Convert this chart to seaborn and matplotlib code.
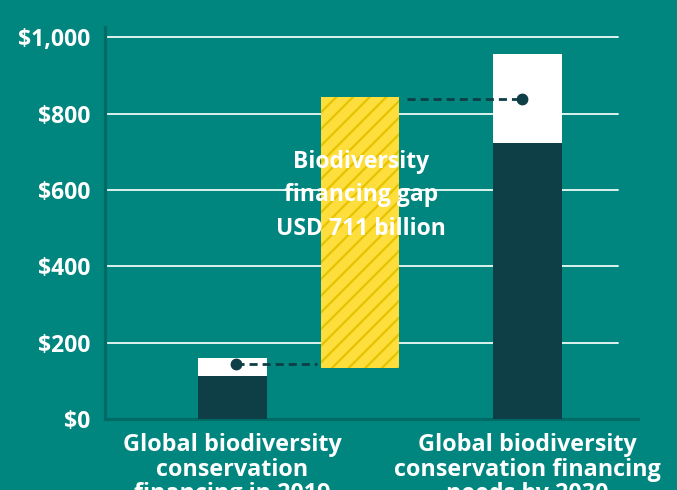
import matplotlib
matplotlib.use("Agg")
import matplotlib.pyplot as plt
import seaborn as sns

# --- data (USD billion) ---
categories = [
    "Global biodiversity\nconservation\nfinancing in 2019",
    "Global biodiversity\nconservation financing\nneeds by 2030",
]
range_low = [113, 723]      # lower end of each estimate range
range_high = [160, 956]     # upper end of each estimate range
marker_values = [144, 838]  # point estimate drawn as a dot
gap_low = 134
gap_value = 711
gap_label = "Biodiversity\nfinancing gap\nUSD 711 billion"
y_ticks = [0, 200, 400, 600, 800, 1000]
y_tick_labels = ["$0", "$200", "$400", "$600", "$800", "$1,000"]

# --- style ---
BG = "#00867F"
DARK = "#0E3F46"
YELLOW = "#FEDE3C"
HATCH = "#E6C300"
SPINE = "#006A65"
GRID = "#DDF2EF"

sns.set_theme(style="white")
plt.rcParams["font.family"] = ["Open Sans", "DejaVu Sans"]
plt.rcParams["font.weight"] = "bold"
plt.rcParams["hatch.linewidth"] = 1.6
plt.rcParams["lines.scale_dashes"] = False

fig = plt.figure(figsize=(6.77, 4.90), dpi=100, facecolor=BG)
ax = fig.add_axes([105.3 / 677, 1 - 419.2 / 490, (638 - 105.3) / 677, (419.2 - 26.7) / 490])
ax.set_facecolor(BG)

bar_w = 0.234
# full range (white) with the lower bound stacked over it in dark
sns.barplot(x=categories, y=range_high, color="white", saturation=1,
            width=bar_w, linewidth=0, ax=ax, zorder=2)
sns.barplot(x=categories, y=range_low, color=DARK, saturation=1,
            width=bar_w, linewidth=0, ax=ax, zorder=3)

# financing gap bar between the two estimates
gap_x = 0.432
ax.bar(gap_x, gap_value, bottom=gap_low, width=0.266, color=YELLOW,
       edgecolor=HATCH, hatch="//", linewidth=0, zorder=2)

# dashed connectors and point estimates
dash = (0, (5.8, 3.6))
ax.plot([0.012, 0.285], [marker_values[0]] * 2, color=DARK, lw=2.0, ls=dash, zorder=4)
ax.plot([0.592, 0.980], [marker_values[1]] * 2, color=DARK, lw=2.0, ls=dash, zorder=4)
ax.plot([0.012, 0.980], marker_values, ls="none", marker="o", ms=7.5,
        color=DARK, zorder=5)

ax.text(0.436, 587, gap_label, ha="center", va="center", color="white",
        fontsize=16.5, fontweight="bold", linespacing=1.53, zorder=6)

# axes
ax.set_xlim(-0.431, 1.3746)
ax.set_ylim(0, 1028)
ax.set_yticks(y_ticks)
ax.set_yticklabels(y_tick_labels)
for t in y_ticks[1:]:
    ax.axhline(t, xmin=0, xmax=(618 - 105.3) / (638 - 105.3), color=GRID,
               lw=1.4, zorder=1)
ax.grid(False)
ax.set_xlabel("")
ax.set_ylabel("")
for s in ["top", "right"]:
    ax.spines[s].set_visible(False)
for s in ["left", "bottom"]:
    ax.spines[s].set_color(SPINE)
    ax.spines[s].set_linewidth(2.3)
ax.tick_params(axis="both", length=0, colors="white")
ax.tick_params(axis="y", pad=11, labelsize=16.5)
ax.tick_params(axis="x", pad=10, labelsize=16.8)
for lab in ax.get_xticklabels() + ax.get_yticklabels():
    lab.set_fontweight("bold")
for lab in ax.get_xticklabels():
    lab.set_linespacing(1.03)
    lab.set_ha("center")

fig.savefig("out.png", dpi=100, facecolor=BG)
